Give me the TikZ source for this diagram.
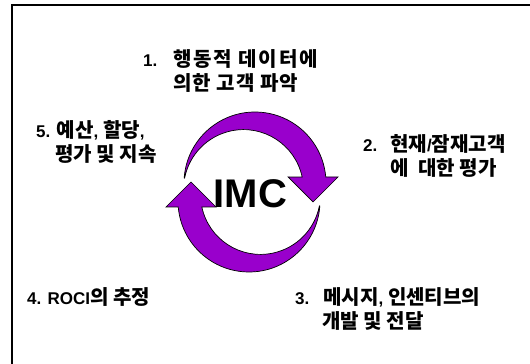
\documentclass[tikz,border=0pt]{standalone}
\usepackage{fontspec}
\setmainfont{Liberation Sans}
\newfontfamily\kr{Noto Sans CJK KR}[Scale=1.18]
\newfontfamily\krwide{Noto Sans CJK KR}[Scale=1.18, LetterSpace=9]
\newfontfamily\krmid{Noto Sans CJK KR}[Scale=1.18, LetterSpace=5]
\definecolor{arrowpurple}{HTML}{9900CC}
\begin{document}
\begin{tikzpicture}[x=1pt,y=1pt,
  lbl/.style={anchor=base west, inner sep=0pt, font=\fontsize{17}{24}\selectfont\bfseries},
  cyclearrow/.style={fill=arrowpurple, draw=black, line width=0.7pt, line join=miter}]
\useasboundingbox (0,0) rectangle (530,364);
% frame (open at right and bottom)
\coordinate (fa) at (12,-2);
\coordinate (fb) at (12,359);
\coordinate (fc) at (532,359);
\draw[line width=1.5pt] (fa) -- (fb) -- (fc);
% upper arrow (clockwise, head pointing down on the right)
\filldraw[cyclearrow] (184.17,185.95) arc[start angle=176, end angle=4.85, radius=71pt]
  -- (338,187) -- (313,162) -- (288,187) -- (302.17,186.98)
  arc[start angle=12.1, end angle=169, radius=60pt] -- cycle;
% lower arrow (same shape turned half round)
\filldraw[cyclearrow] (319.83,158.05) arc[start angle=356, end angle=184.85, radius=71pt]
  -- (166,157) -- (191,182) -- (216,157) -- (201.83,157.02)
  arc[start angle=192.1, end angle=349, radius=60pt] -- cycle;
\node[inner sep=0pt, font=\fontsize{40}{40}\selectfont\bfseries] (imc) at (250.5,170.5) {IMC};
% labels
\node[lbl] (l1a) at (143,297) {\makebox[30pt][l]{1.}{\krwide 행동적 데이터에}};
\node[lbl] (l1b) at (173,273) {{\krmid 의한 고객 파악}};
\node[lbl] (l2a) at (363,212) {\makebox[27pt][l]{2.}{\kr 현재}/{\kr 잠재고객}};
\node[lbl] (l2b) at (390,188) {{\kr 에}\ \ {\kr 대한 평가}};
\node[lbl] (l3a) at (295,59) {\makebox[28pt][l]{3.}{\kr 메시지}, {\kr 인센티브의}};
\node[lbl] (l3b) at (322,35) {{\kr 개발 및 전달}};
\node[lbl] (l4) at (27,59) {4. ROCI{\kr 의 추정}};
\node[lbl] (l5a) at (36,226) {5. {\kr 예산}, {\kr 할당},};
\node[lbl] (l5b) at (55,202) {{\kr 평가 및 지속}};
\end{tikzpicture}
\end{document}
